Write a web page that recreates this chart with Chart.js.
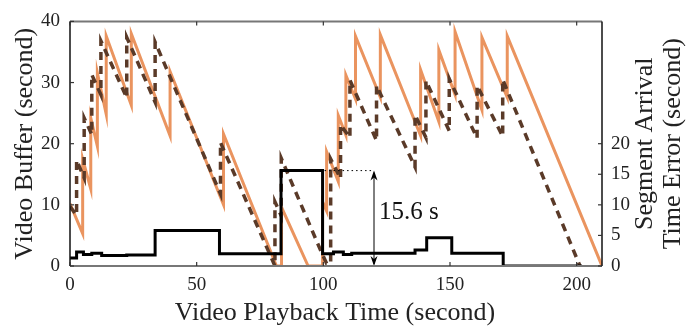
<!DOCTYPE html>
<html>
<head>
<meta charset="utf-8">
<script src="https://cdn.jsdelivr.net/npm/chart.js@4/dist/chart.umd.min.js"></script>
<style>
  html, body { margin: 0; padding: 0; background: #fff; }
  #wrap { width: 691px; height: 332px; }
</style>
</head>
<body>
<div id="wrap"><canvas id="c" width="691" height="332"></canvas></div>
<script>
// ---- Data ----
// Actual video buffer (orange, solid)
const bufferX = [0, 5.0, 5.0, 8.2, 8.2, 10.8, 10.8, 14.3, 14.3, 24.2, 24.2, 39.5, 39.5, 60.6, 60.6, 81.5, 83.5, 83.5, 94.0, 99.7, 99.7, 101.3, 101.3, 105.9, 105.9, 108.9, 108.9, 112.7, 112.7, 122.5, 122.5, 138.4, 138.4, 145.6, 145.6, 152.0, 152.0, 162.6, 162.6, 172.6, 172.6, 210];
const bufferY = [10.2, 5.3, 17.5, 12.6, 24.2, 19.6, 31.6, 24.8, 37.6, 26.3, 38.0, 21.3, 31.8, 10.0, 21.6, 0, 0, 9.6, 0, 0, 10.5, 9.0, 18.7, 13.8, 24.6, 21.4, 31.2, 27.3, 37.6, 27.6, 37.8, 21.3, 32.1, 23.6, 35.3, 28.0, 38.3, 25.5, 37.4, 27.6, 37.6, 0];
// Predicted video buffer (brown, dashed)
const predX = [0, 2.6, 2.6, 5.6, 5.6, 8.6, 8.6, 12.2, 12.2, 22.4, 22.4, 33.6, 33.6, 59.4, 59.4, 80.9, 80.9, 83.4, 83.4, 99.4, 101.3, 102.9, 102.9, 106.8, 106.8, 110.5, 110.5, 121.0, 121.0, 136.2, 136.2, 140.5, 140.5, 149.7, 149.7, 160.7, 160.7, 170.8, 170.8, 201.3];
const predY = [9.7, 8.3, 17.3, 14.4, 24.2, 21.5, 31.3, 28.0, 36.8, 27.5, 37.4, 26.8, 36.6, 11.8, 20.2, 0, 10.5, 8.2, 17.6, 2.1, 0.4, 0.4, 17.5, 14.3, 23.1, 21.0, 30.4, 20.5, 29.5, 16.2, 24.7, 21.0, 30.3, 22.1, 30.6, 20.9, 29.5, 21.2, 30.5, 0];
// Segment arrival time error (black, step, right axis): value holds from x until next x
const errX = [0, 2.6, 5.3, 8.6, 12.5, 22.4, 33.6, 59.0, 83.3, 99.7, 104.0, 107.9, 111.2, 136.2, 140.8, 150.7, 171.0, 202.0];
const errY = [1.3, 2.3, 1.9, 2.1, 1.7, 1.8, 5.8, 2.0, 15.6, 2.0, 2.3, 1.9, 2.1, 2.6, 4.6, 2.1, 0, 0];
// Tick values
const xTicks = [0, 50, 100, 150, 200];
const leftTicks = [0, 10, 20, 30, 40];
const rightTicks = [0, 5, 10, 15, 20];
// Annotation
const gapValue = 15.6;
const gapStartX = 99.7;
const gapArrowX = 120;
const gapLabel = '15.6 s';

const pts = (xs, ys) => xs.map((x, i) => ({ x: x, y: ys[i] }));
const SERIF = '"Liberation Serif", "DejaVu Serif", serif';

const framePlugin = {
  id: 'frame',
  afterDatasetsDraw(chart) {
    const ctx = chart.ctx;
    const a = chart.chartArea;
    const sx = chart.scales.x, sy = chart.scales.y, sy2 = chart.scales.y2;
    ctx.save();
    // annotation: dotted line + double arrow + label
    const yTop = sy2.getPixelForValue(gapValue);
    const y0 = sy2.getPixelForValue(0);
    const xs = sx.getPixelForValue(gapStartX);
    const xa = sx.getPixelForValue(gapArrowX);
    ctx.strokeStyle = '#000';
    ctx.lineWidth = 1;
    ctx.setLineDash([1.5, 3]);
    ctx.beginPath(); ctx.moveTo(xs + 2, yTop); ctx.lineTo(xa, yTop); ctx.stroke();
    ctx.setLineDash([]);
    ctx.beginPath(); ctx.moveTo(xa, yTop + 2); ctx.lineTo(xa, y0 - 2); ctx.stroke();
    ctx.fillStyle = '#000';
    ctx.beginPath(); ctx.moveTo(xa, yTop); ctx.lineTo(xa - 3.5, yTop + 10); ctx.lineTo(xa, yTop + 7); ctx.lineTo(xa + 3.5, yTop + 10); ctx.closePath(); ctx.fill();
    ctx.beginPath(); ctx.moveTo(xa, y0); ctx.lineTo(xa - 3.5, y0 - 10); ctx.lineTo(xa, y0 - 7); ctx.lineTo(xa + 3.5, y0 - 10); ctx.closePath(); ctx.fill();
    ctx.font = '25px ' + SERIF;
    ctx.textAlign = 'left';
    ctx.textBaseline = 'middle';
    ctx.fillStyle = '#111';
    ctx.fillText(gapLabel, xa + 5, sy2.getPixelForValue(8.8));

    // frame
    ctx.lineWidth = 2;
    ctx.strokeStyle = '#777';
    ctx.beginPath(); ctx.moveTo(a.left, a.top); ctx.lineTo(a.right, a.top); ctx.stroke();
    ctx.beginPath(); ctx.moveTo(a.left, a.bottom); ctx.lineTo(a.right, a.bottom); ctx.stroke();
    ctx.strokeStyle = '#111';
    ctx.lineWidth = 1.5;
    ctx.beginPath(); ctx.moveTo(a.left, a.top); ctx.lineTo(a.left, a.bottom); ctx.stroke();
    ctx.beginPath(); ctx.moveTo(a.right, a.top); ctx.lineTo(a.right, a.bottom); ctx.stroke();
    // inward ticks
    ctx.lineWidth = 1.2;
    ctx.strokeStyle = '#333';
    xTicks.forEach(v => {
      const px = sx.getPixelForValue(v);
      ctx.beginPath(); ctx.moveTo(px, a.top); ctx.lineTo(px, a.top + 4); ctx.stroke();
      ctx.beginPath(); ctx.moveTo(px, a.bottom); ctx.lineTo(px, a.bottom - 4); ctx.stroke();
    });
    leftTicks.forEach(v => {
      const py = sy.getPixelForValue(v);
      ctx.beginPath(); ctx.moveTo(a.left, py); ctx.lineTo(a.left + 4, py); ctx.stroke();
    });
    rightTicks.forEach(v => {
      const py = sy2.getPixelForValue(v);
      ctx.beginPath(); ctx.moveTo(a.right, py); ctx.lineTo(a.right - 4, py); ctx.stroke();
    });

    // axis titles
    ctx.fillStyle = '#222';
    ctx.textAlign = 'center';
    ctx.textBaseline = 'middle';
    ctx.font = '26px ' + SERIF;
    ctx.fillText('Video Playback Time (second)', (a.left + a.right) / 2 - 1, 313);
    const cy = (a.top + a.bottom) / 2;
    ctx.save(); ctx.translate(25, cy); ctx.rotate(-Math.PI / 2);
    ctx.fillText('Video Buffer (second)', 0, 0); ctx.restore();
    ctx.save(); ctx.translate(645, cy); ctx.rotate(-Math.PI / 2);
    ctx.fillText('Segment Arrival', 0, 0); ctx.restore();
    ctx.save(); ctx.translate(673, cy); ctx.rotate(-Math.PI / 2);
    ctx.fillText('Time Error (second)', 0, 0); ctx.restore();
    ctx.restore();
  }
};

new Chart(document.getElementById('c'), {
  type: 'line',
  data: {
    datasets: [
      { label: 'Segment Arrival Time Error', data: pts(errX, errY), yAxisID: 'y2', stepped: 'before',
        borderColor: '#000', borderWidth: 3, pointRadius: 0, order: 0 },
      { label: 'Predicted Buffer', data: pts(predX, predY), yAxisID: 'y',
        borderColor: '#5a3a28', borderWidth: 3.5, borderDash: [8, 6], pointRadius: 0, order: 1 },
      { label: 'Video Buffer', data: pts(bufferX, bufferY), yAxisID: 'y',
        borderColor: '#ea945f', borderWidth: 3, pointRadius: 0, order: 2 }
    ]
  },
  options: {
    responsive: false,
    animation: false,
    devicePixelRatio: 1,
    layout: { padding: { top: 13, left: 0, right: 0, bottom: 0 } },
    plugins: { legend: { display: false }, tooltip: { enabled: false } },
    elements: { line: { tension: 0, borderCapStyle: 'butt', borderJoinStyle: 'miter' } },
    scales: {
      x: {
        type: 'linear', min: 0, max: 210,
        afterBuildTicks: s => { s.ticks = xTicks.map(v => ({ value: v })); },
        afterFit: s => { s.height = 66; },
        grid: { display: false, drawTicks: false }, border: { display: false },
        ticks: { color: '#222', padding: 8, maxRotation: 0, font: { family: SERIF, size: 19 } }
      },
      y: {
        position: 'left', min: 0, max: 40,
        afterBuildTicks: s => { s.ticks = leftTicks.map(v => ({ value: v })); },
        afterFit: s => { s.width = 70; },
        grid: { display: false, drawTicks: false }, border: { display: false },
        ticks: { color: '#222', padding: 10, font: { family: SERIF, size: 19 } }
      },
      y2: {
        position: 'right', min: 0, max: 40,
        afterBuildTicks: s => { s.ticks = rightTicks.map(v => ({ value: v })); },
        afterFit: s => { s.width = 89; },
        grid: { display: false, drawTicks: false }, border: { display: false },
        ticks: { color: '#222', padding: 9, font: { family: SERIF, size: 19 } }
      }
    }
  },
  plugins: [framePlugin]
});
</script>
</body>
</html>
